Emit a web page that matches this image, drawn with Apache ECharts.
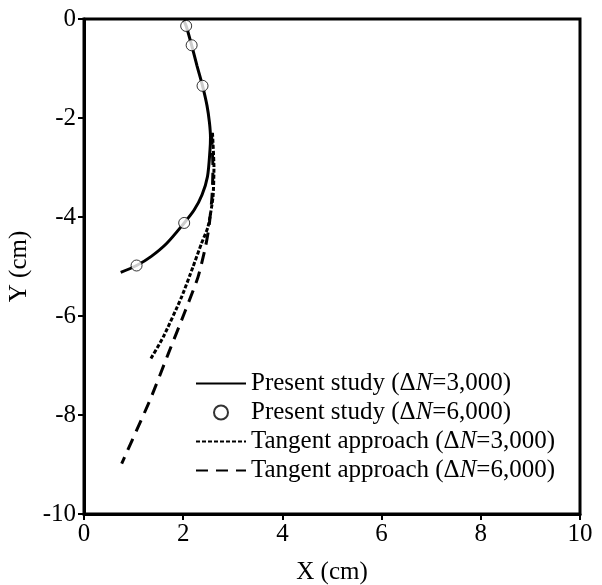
<!DOCTYPE html>
<html>
<head>
<meta charset="utf-8">
<script src="https://cdn.jsdelivr.net/npm/echarts@6/dist/echarts.min.js"></script>
<style>
  html, body { margin: 0; padding: 0; background: #fff; }
  #chart { width: 602px; height: 585px; }
</style>
</head>
<body>
<div id="chart"></div>
<script>
// crack path, X / Y in cm
const presentLine = [
  [2.01, -0.03], [2.06, -0.14], [2.17, -0.53], [2.28, -0.95], [2.39, -1.35],
  [2.48, -1.75], [2.53, -2.1], [2.55, -2.4], [2.54, -2.65], [2.49, -3.18],
  [2.38, -3.55], [2.22, -3.86], [2.02, -4.12], [1.67, -4.53], [1.35, -4.8],
  [1.06, -4.98], [0.74, -5.12]
];
const presentPoints = [
  [2.06, -0.14], [2.17, -0.53], [2.39, -1.35], [2.02, -4.12], [1.06, -4.98]
];
const tangent3000 = [
  [2.59, -2.3], [2.62, -3.0], [2.6, -3.6], [2.5, -4.2], [2.37, -4.53],
  [2.2, -5.0], [1.97, -5.61], [1.6, -6.42], [1.33, -6.89]
];
const tangent6000 = [
  [2.57, -2.3], [2.6, -3.0], [2.58, -3.6], [2.52, -4.2], [2.45, -4.6],
  [2.3, -5.21], [2.04, -5.9], [1.7, -6.76], [1.33, -7.7], [0.76, -8.98]
];
const xTicks = { min: 0, max: 10, step: 2 };
const yTicks = { min: -10, max: 0, step: 2 };

const font = 'Liberation Serif';
const fs = 25;
const names = [
  'Present study (ΔN=3,000)',
  'Present study (ΔN=6,000)',
  'Tangent approach (ΔN=3,000)',
  'Tangent approach (ΔN=6,000)'
];
const noDot = { opacity: 0 };  // hide the symbol drawn on line legend icons

const chart = echarts.init(document.getElementById('chart'));
const option = {
  animation: false,
  grid: {
    left: 84, top: 19, right: 22, bottom: 71,
    outerBoundsMode: 'none',
    show: true, borderColor: '#000', borderWidth: 3
  },
  legend: {
    orient: 'vertical',
    left: 190,
    top: 366,
    itemWidth: 50,
    itemHeight: 14,
    itemGap: 4,
    data: [
      { name: names[0], itemStyle: noDot },
      { name: names[1] },
      { name: names[2], itemStyle: noDot },
      { name: names[3], itemStyle: noDot }
    ],
    formatter: function (name) {
      const m = name.match(/^(.*)\(ΔN=(.*)\)$/);
      return '{a|' + m[1] + '(Δ}{i|N}{a|=' + m[2] + ')}';
    },
    textStyle: {
      fontFamily: font, fontSize: fs, color: '#000',
      rich: {
        a: { fontFamily: font, fontSize: fs, color: '#000' },
        i: { fontFamily: font, fontSize: fs, color: '#000', fontStyle: 'italic' }
      }
    }
  },
  xAxis: {
    type: 'value',
    min: xTicks.min, max: xTicks.max, interval: xTicks.step,
    name: 'X (cm)', nameLocation: 'middle', nameGap: 46,
    nameTextStyle: { fontFamily: font, fontSize: fs, color: '#000' },
    axisLine: { show: true, onZero: false, lineStyle: { color: '#000', width: 3 } },
    axisTick: { show: true, length: 6, lineStyle: { color: '#000', width: 2 } },
    axisLabel: { fontFamily: font, fontSize: fs, color: '#000', margin: 8 },
    splitLine: { show: false }
  },
  yAxis: {
    type: 'value',
    min: yTicks.min, max: yTicks.max, interval: yTicks.step,
    name: 'Y (cm)', nameLocation: 'middle', nameGap: 50,
    nameTextStyle: { fontFamily: font, fontSize: fs, color: '#000' },
    axisLine: { show: true, onZero: false, lineStyle: { color: '#000', width: 3 } },
    axisTick: { show: true, length: 6, lineStyle: { color: '#000', width: 2 } },
    axisLabel: { fontFamily: font, fontSize: fs, color: '#000', margin: 8 },
    splitLine: { show: false }
  },
  series: [
    {
      name: names[0], type: 'line', data: presentLine,
      smooth: 0.3, symbol: 'none', z: 3,
      lineStyle: { color: '#000', width: 3 },
      itemStyle: { color: '#000' }
    },
    {
      name: names[1], type: 'scatter', data: presentPoints,
      symbol: 'circle', symbolSize: 11, z: 4,
      itemStyle: { color: '#fff', borderColor: '#000', borderWidth: 1 }
    },
    {
      name: names[2], type: 'line', data: tangent3000,
      smooth: 0.2, symbol: 'none',
      lineStyle: { color: '#000', width: 3, type: [4, 2] },
      itemStyle: { color: '#000' }
    },
    {
      name: names[3], type: 'line', data: tangent6000,
      smooth: 0.2, symbol: 'none',
      lineStyle: { color: '#000', width: 3, type: [12, 8] },
      itemStyle: { color: '#000' }
    }
  ]
};
chart.setOption(option);
</script>
</body>
</html>
